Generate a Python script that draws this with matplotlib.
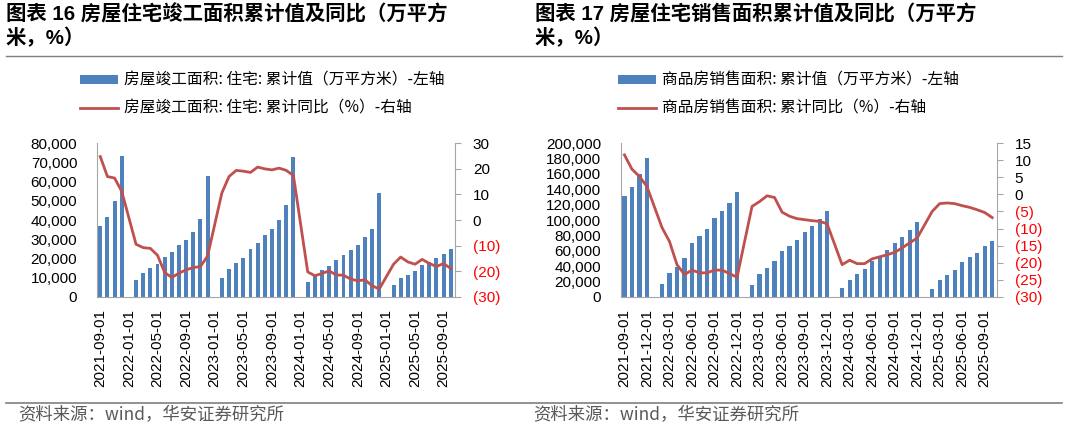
import numpy as np
import matplotlib
matplotlib.use("Agg")
import matplotlib.pyplot as plt
from matplotlib.lines import Line2D
from matplotlib.ticker import FuncFormatter

plt.rcParams['font.family'] = ['Liberation Sans', 'Noto Sans CJK SC', 'DejaVu Sans']

nan = np.nan

# months 2021-09 .. 2025-10
months = []
for y in range(2021, 2026):
    for m in range(1, 13):
        if (y == 2021 and m < 9) or (y == 2025 and m > 10):
            continue
        months.append("%d-%02d-01" % (y, m))

# left chart: residential completions (万平方米, %)
comp_area = [37000, 41800, 49900, 73600,
             nan, 8900, 12400, 14800, 17100, 20900, 23500, 26800, 29600, 33900, 40400, 62800,
             nan, 9800, 14500, 17400, 20400, 24700, 28000, 32000, 35300, 40200, 47700, 72900,
             nan, 7500, 11000, 13800, 16200, 19300, 21900, 24500, 27000, 31000, 35300, 54100,
             nan, 6300, 9600, 11300, 13200, 16400, 17900, 20000, 22300, 25000]
comp_yoy = [24.8, 17.0, 16.4, 11.2,
            nan, -9.5, -10.8, -11.1, -13.8, -20.5, -22.5, -20.8, -19.5, -18.6, -18.2, -14.1,
            nan, 10.6, 17.0, 19.4, 19.1, 18.6, 20.7, 20.0, 19.6, 20.3, 19.4, 17.4,
            nan, -20.3, -21.8, -20.9, -19.9, -21.5, -21.6, -23.1, -23.8, -23.4, -25.7, -27.0,
            nan, -17.3, -14.5, -16.4, -17.3, -15.4, -17.0, -18.2, -17.0, -19.0]

# right chart: commodity housing sales (万平方米, %)
sales_area = [131300, 143500, 159600, 180500,
              nan, 16100, 31300, 39100, 50900, 69600, 79200, 88300, 102200, 111800, 121800, 136100,
              nan, 14800, 29200, 37800, 46600, 59600, 66500, 74000, 84800, 92600, 100900, 112200,
              nan, 10900, 22200, 29200, 36500, 47000, 53500, 60500, 69600, 78300, 86600, 97800,
              nan, 10400, 21400, 27900, 35200, 45700, 51400, 57400, 65700, 72300]
sales_yoy = [11.6, 7.4, 5.3, 2.3,
             nan, -9.7, -13.8, -20.6, -23.5, -22.2, -23.0, -23.0, -22.2, -22.2, -23.2, -24.3,
             nan, -3.5, -2.1, -0.4, -0.9, -5.2, -6.4, -7.1, -7.4, -7.7, -7.9, -8.6,
             nan, -20.6, -19.3, -20.3, -20.3, -18.9, -18.3, -17.7, -17.0, -15.7, -14.2, -12.8,
             nan, -5.0, -2.7, -2.5, -2.7, -3.3, -3.8, -4.5, -5.3, -6.8]

titles = ["图表 16 房屋住宅竣工面积累计值及同比（万平方\n米，%）",
          "图表 17 房屋住宅销售面积累计值及同比（万平方\n米，%）"]
legend_bar = ["房屋竣工面积: 住宅: 累计值（万平方米）-左轴",
              "商品房销售面积: 累计值（万平方米）-左轴"]
legend_line = ["房屋竣工面积: 住宅: 累计同比（%）-右轴",
               "商品房销售面积: 累计同比（%）-右轴"]
source = "资料来源：wind，华安证券研究所"

BLUE = "#4F81BD"
RED = "#C0504D"
GREY = "#A6A6A6"
W, H = 1067, 430

fig = plt.figure(figsize=(W / 100, H / 100), dpi=100)


def fx(px):
    return px / W


def fy(py):
    return 1 - py / H


def make_panel(x0, x1, bars, yoy, ylim1, step1, ylim2, step2, tick_every, xmax,
               leg_x, title, lab_bar, lab_line, src_x, title_x):
    ax = fig.add_axes([fx(x0), fy(296.7), fx(x1 - x0), (296.7 - 143.3) / H])
    x = np.arange(len(months))
    b = ax.bar(x, bars, width=0.55, color=BLUE, zorder=2)
    ax.set_xlim(-0.5, xmax)
    ax.set_ylim(*ylim1)
    ax.set_yticks(np.arange(ylim1[0], ylim1[1] + 1, step1))
    ax.yaxis.set_major_formatter(FuncFormatter(lambda v, p: "{:,.0f}".format(v)))
    ax.set_xticks(x[::tick_every])
    ax.set_xticklabels(months[::tick_every], rotation=90)
    ax.tick_params(axis='both', length=0, labelsize=11)
    ax.tick_params(axis='y', pad=14)
    ax.tick_params(axis='x', pad=9)
    for s in ['top', 'right']:
        ax.spines[s].set_visible(False)
    for s in ['left', 'bottom']:
        ax.spines[s].set_color(GREY)

    ax2 = ax.twinx()
    yv = np.array(yoy, dtype=float)
    ok = ~np.isnan(yv)
    ln, = ax2.plot(x[ok], yv[ok], color=RED, lw=2.0, zorder=3)
    ax2.set_ylim(*ylim2)
    ticks = np.arange(ylim2[0], ylim2[1] + 1, step2)
    ax2.set_yticks(ticks)
    ax2.set_yticklabels(["(%d)" % -t if t < 0 else "%d" % t for t in ticks])
    for t, lab in zip(ticks, ax2.get_yticklabels()):
        lab.set_color("red" if t < 0 else "black")
    ax2.tick_params(axis='y', length=4, color=GREY, labelsize=11, pad=9)
    for s in ['top', 'left', 'bottom']:
        ax2.spines[s].set_visible(False)
    ax2.spines['right'].set_color(GREY)

    fig.legend([b, ln], [lab_bar, lab_line], loc='upper left',
               bbox_to_anchor=(fx(leg_x), fy(72)), frameon=False, borderpad=0,
               borderaxespad=0, handlelength=2.45, handleheight=0.57,
               handletextpad=0.35, labelspacing=0.7,
               prop={'family': ['Noto Sans CJK SC'], 'size': 11.3})
    fig.text(fx(title_x), fy(4), title, fontsize=14.7, fontweight='bold',
             va='top', ha='left', linespacing=1.25)
    fig.text(fx(src_x), fy(415), source, fontsize=12.5, color='#595959',
             va='center', ha='left', family=['Noto Sans CJK SC'])


make_panel(96.7, 454.7, comp_area, comp_yoy, (0, 80000), 10000, (-30, 30), 10,
           4, 49.55, 80, titles[0], legend_bar[0], legend_line[0], 18, 6)
make_panel(620.7, 996.7, sales_area, sales_yoy, (0, 200000), 20000, (-30, 15), 5,
           3, 49.6, 618, titles[1], legend_bar[1], legend_line[1], 533, 535)

fig.add_artist(Line2D([fx(6), fx(1062)], [fy(56), fy(56)], color='#7F7F7F', lw=1))
fig.add_artist(Line2D([fx(6), fx(1062)], [fy(403), fy(403)], color='#7F7F7F', lw=1.2))

fig.savefig("out.png", dpi=100)
